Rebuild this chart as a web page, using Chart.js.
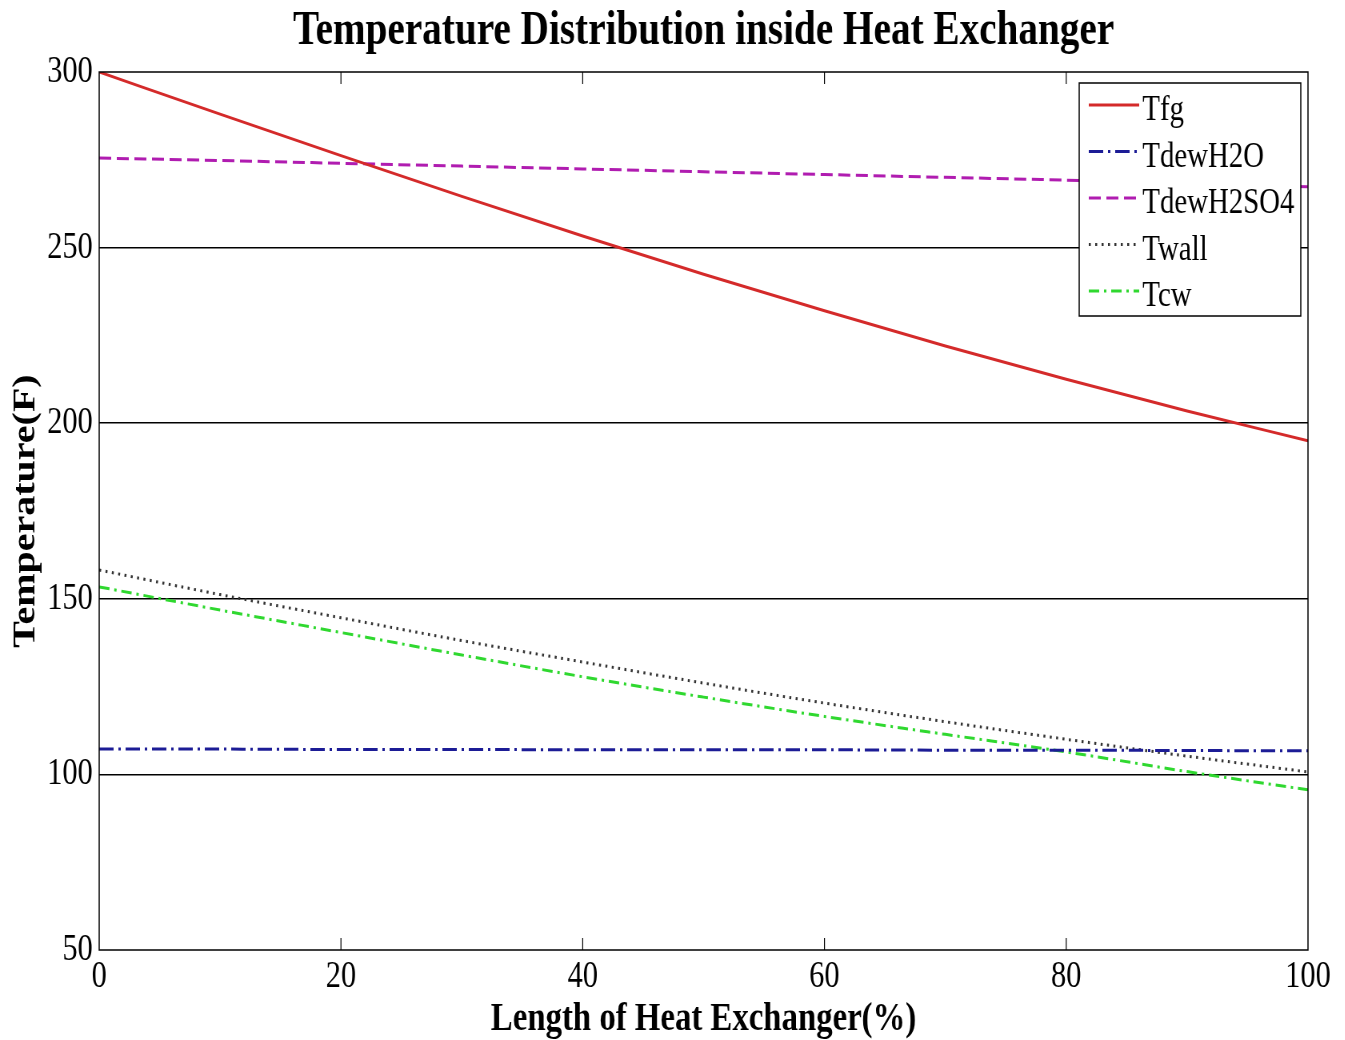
<!DOCTYPE html>
<html>
<head>
<meta charset="utf-8">
<script src="https://cdn.jsdelivr.net/npm/chart.js@4.4.1/dist/chart.umd.min.js"></script>
<style>
  html, body { margin: 0; padding: 0; background: #fff; overflow: hidden; }
  /* the reference is horizontally squeezed, so draw wide and compress */
  #wrap { width: 1681px; height: 1040px; transform: scaleX(0.8); transform-origin: 0 0; }
</style>
</head>
<body>
<div id="wrap"><canvas id="chart" width="1681" height="1040"></canvas></div>
<script>
const lengthPct = [0, 10, 20, 30, 40, 50, 60, 70, 80, 90, 100];
const tfg       = [300, 288, 276.2, 264.6, 253.3, 242.4, 232, 222, 212.5, 203.5, 195];
const tdewH2O   = [107.2, 107.2, 107.1, 107.1, 107.0, 107.0, 107.0, 106.9, 106.9, 106.8, 106.7];
const tdewH2SO4 = [275.5, 274.8, 274, 273.2, 272.4, 271.6, 270.8, 270, 269.2, 268.2, 267.3];
const twall     = [158.2, 151.2, 144.6, 138.1, 132, 126, 120.3, 115, 110, 105.2, 100.7];
const tcw       = [153.4, 146.8, 140.4, 134, 127.8, 122, 116.5, 111.4, 106.4, 100.8, 95.6];
const xTicks = [0, 20, 40, 60, 80, 100];
const yTicks = [50, 100, 150, 200, 250, 300];

const pts = (arr) => arr.map((v, i) => ({ x: lengthPct[i], y: v }));

const series = [
    { label: 'Tfg', data: tfg, color: '#d42a2a', dash: [], width: 3 },
    { label: 'TdewH2O', data: tdewH2O, color: '#1c1c96', dash: [18, 6, 3, 6], width: 3 },
    { label: 'TdewH2SO4', data: tdewH2SO4, color: '#b01cb0', dash: [15, 7], width: 3 },
    { label: 'Twall', data: twall, color: '#333333', dash: [2.5, 5.5], width: 3 },
    { label: 'Tcw', data: tcw, color: '#2fd82f', dash: [13, 6, 3, 6], width: 3 },
];

const serif = "'Liberation Serif', 'Times New Roman', serif";

const decorations = {
    id: 'decorations',
    afterDraw(chart) {
        const { ctx, chartArea: a, scales } = chart;
        ctx.save();

        // title
        ctx.fillStyle = '#000';
        ctx.font = `bold 49px ${serif}`;
        ctx.textAlign = 'center';
        ctx.textBaseline = 'alphabetic';
        ctx.fillText('Temperature Distribution inside Heat Exchanger', (a.left + a.right) / 2, 44);

        // plot box
        ctx.strokeStyle = '#000';
        ctx.lineWidth = 1.5;
        ctx.setLineDash([]);
        ctx.strokeRect(a.left, a.top, a.right - a.left, a.bottom - a.top);

        // inward x ticks
        ctx.lineWidth = 1.2;
        xTicks.slice(1, -1).forEach((t) => {
            const x = scales.x.getPixelForValue(t);
            ctx.beginPath();
            ctx.moveTo(x, a.top); ctx.lineTo(x, a.top + 12);
            ctx.moveTo(x, a.bottom); ctx.lineTo(x, a.bottom - 12);
            ctx.stroke();
        });

        // legend
        const lx = 1349, ly = 83, lw = 277, lh = 233;
        ctx.fillStyle = '#fff';
        ctx.fillRect(lx, ly, lw, lh);
        ctx.lineWidth = 1.5;
        ctx.strokeStyle = '#000';
        ctx.strokeRect(lx, ly, lw, lh);
        ctx.font = `36px ${serif}`;
        ctx.textAlign = 'left';
        ctx.textBaseline = 'middle';
        series.forEach((s, i) => {
            const y = 105 + i * 46.5;
            ctx.strokeStyle = s.color;
            ctx.lineWidth = s.width;
            ctx.setLineDash(s.dash);
            ctx.beginPath();
            ctx.moveTo(1361, y); ctx.lineTo(1424, y);
            ctx.stroke();
            ctx.setLineDash([]);
            ctx.fillStyle = '#000';
            ctx.fillText(s.label, 1428, y + 6);
        });
        ctx.restore();
    },
};

new Chart(document.getElementById('chart'), {
    type: 'line',
    data: {
        datasets: series.map((s) => ({
            label: s.label,
            data: pts(s.data),
            borderColor: s.color,
            borderDash: s.dash,
            borderWidth: s.width,
            pointRadius: 0,
            cubicInterpolationMode: 'monotone',
            fill: false,
        })),
    },
    options: {
        responsive: false,
        animation: false,
        layout: { padding: { top: 72, right: 46, left: 0, bottom: 0 } },
        plugins: { legend: { display: false }, title: { display: false }, tooltip: { enabled: false } },
        scales: {
            x: {
                type: 'linear',
                min: 0,
                max: 100,
                afterFit: (s) => { s.height = 90; },
                afterBuildTicks: (s) => { s.ticks = xTicks.map((v) => ({ value: v })); },
                grid: { display: false, drawTicks: false, tickLength: 0 },
                border: { display: false },
                ticks: { color: '#000', font: { family: serif, size: 38 }, padding: 4, maxRotation: 0 },
                title: {
                    display: true,
                    text: 'Length of Heat Exchanger(%)',
                    color: '#000',
                    font: { family: serif, size: 41, weight: 'bold' },
                    padding: { top: 0, bottom: -4 },
                },
            },
            y: {
                min: 50,
                max: 300,
                afterFit: (s) => { s.width = 124; },
                afterBuildTicks: (s) => { s.ticks = yTicks.map((v) => ({ value: v })); },
                grid: {
                    drawTicks: false,
                    color: (c) => (c.tick && c.tick.value > 50 && c.tick.value < 300 ? '#000' : 'rgba(0,0,0,0)'),
                    lineWidth: 1.5,
                },
                border: { display: false },
                ticks: { color: '#000', font: { family: serif, size: 38 }, padding: 8 },
                title: {
                    display: true,
                    text: 'Temperature(F)',
                    color: '#000',
                    font: { family: serif, size: 40, weight: 'bold' },
                    padding: { top: 9, bottom: 0 },
                },
            },
        },
    },
    plugins: [decorations],
});
</script>
</body>
</html>
